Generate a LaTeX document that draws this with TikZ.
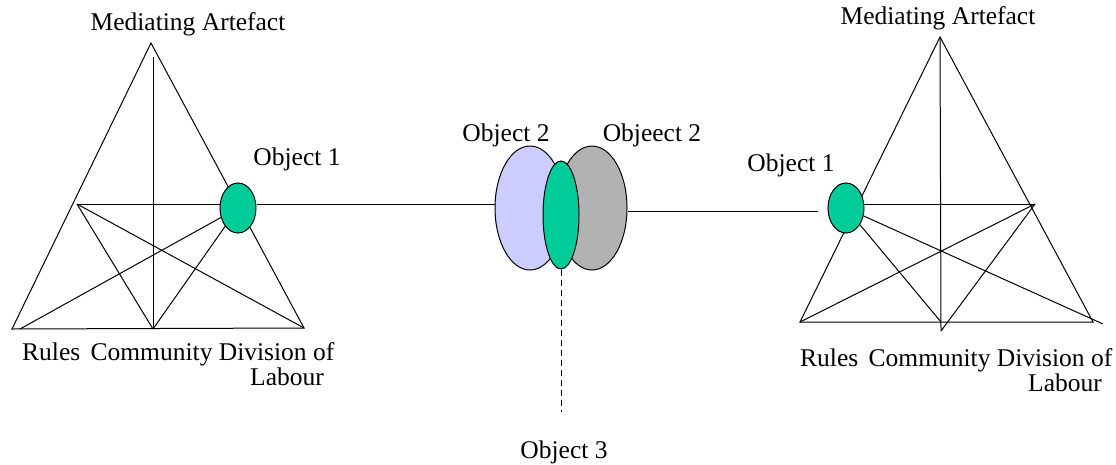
\documentclass[tikz,border=0pt]{standalone}
\usepackage{fontspec}
\setmainfont{Liberation Serif}
\usetikzlibrary{shapes.geometric}
\definecolor{objgreen}{RGB}{0,204,153}
\definecolor{objblue}{RGB}{204,204,255}
\definecolor{objgray}{RGB}{178,178,178}
\begin{document}
\begin{tikzpicture}[x=1pt,y=-1pt,
  ln/.style={line width=1pt,black},
  obj/.style={ellipse,draw,line width=1pt,inner sep=0pt},
  lbl/.style={inner sep=0pt,font=\fontsize{25.5}{30}\selectfont}]
\useasboundingbox (0,0) rectangle (1116,464);
% ---- left triangle
\coordinate (A1) at (151,43);
\coordinate (R1) at (12,329);
\coordinate (R1b) at (20,329);
\coordinate (D1) at (304,328);
\coordinate (C1) at (153,329);
\coordinate (V1) at (153,57);
\coordinate (M1) at (77,204);
\draw[ln] (A1) -- (R1) -- (D1) -- cycle;
\draw[ln] (V1) -- (C1);
\draw[ln] (M1) -- (C1);
\draw[ln] (M1) -- (D1);
\draw[ln] (M1) -- (238,204);
\draw[ln] (238,208) -- (R1b);
\draw[ln] (238,208) -- (C1);
\node[obj,fill=objgreen,minimum width=36pt,minimum height=50pt] (O1) at (238,208) {};
% ---- middle
\node[obj,fill=objblue,minimum width=70pt,minimum height=124pt] (B) at (530,208) {};
\node[obj,fill=objgray,minimum width=70pt,minimum height=124pt] (G) at (592,208) {};
\node[obj,fill=objgreen,minimum width=36pt,minimum height=108pt] (E) at (561,215) {};
\draw[ln] (O1.east |- 0,204) -- (B.west |- 0,204);
\coordinate (Rend) at (818,211);
\draw[ln] (G.east |- 0,211) -- (Rend);
\coordinate (Dend) at (561,412);
\draw[ln,dashed,dash pattern=on 6pt off 4pt] (E.south) -- (Dend);
% ---- right triangle
\coordinate (A2) at (940,37);
\coordinate (R2) at (800,322);
\coordinate (D2) at (1093,322);
\coordinate (D2b) at (1103,324);
\coordinate (C2) at (941,322);
\coordinate (C2b) at (941,331);
\coordinate (M2) at (1035,204);
\draw[ln] (A2) -- (R2) -- (D2) -- cycle;
\draw[ln] (A2) -- (C2b);
\draw[ln] (M2) -- (R2);
\draw[ln] (M2) -- (C2b);
\draw[ln] (846,204) -- (M2);
\draw[ln] (846,208) -- (C2);
\draw[ln] (846,208) -- (D2b);
\node[obj,fill=objgreen,minimum width=36pt,minimum height=50pt] (O2) at (846,208) {};
% ---- labels
\node[lbl,anchor=base] (t1) at (188,30) {Mediating Artefact};
\node[lbl,anchor=base] (t2) at (938,24) {Mediating Artefact};
\node[lbl,anchor=base] (t3) at (297,165) {Object 1};
\node[lbl,anchor=base] (t4) at (791,171) {Object 1};
\node[lbl,anchor=base] (t5) at (506,141) {Object 2};
\node[lbl,anchor=base] (t6) at (652,141) {Objeect 2};
\node[lbl,anchor=base] (t7) at (564,458) {Object 3};
\node[lbl,anchor=base west] (t8) at (22,360) {Rules\hspace{4pt} Community Division of};
\node[lbl,anchor=base] (t9) at (287,385) {Labour};
\node[lbl,anchor=base west] (t10) at (800,366) {Rules\hspace{4pt} Community Division of};
\node[lbl,anchor=base] (t11) at (1065,391) {Labour};
\end{tikzpicture}
\end{document}
